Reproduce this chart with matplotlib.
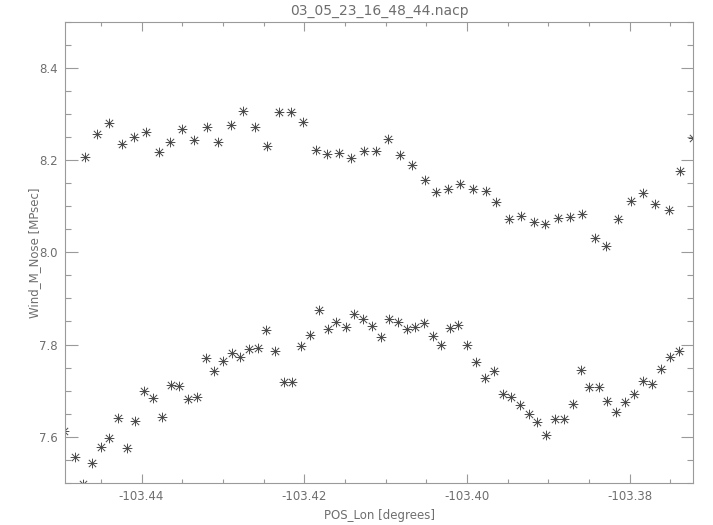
import matplotlib
matplotlib.use("Agg")
import matplotlib.pyplot as plt
from matplotlib.path import Path
from matplotlib.ticker import MultipleLocator, FormatStrFormatter

# upper branch
lon_hi = [-103.4470, -103.4455, -103.4440, -103.4424, -103.4409, -103.4395, -103.4379,
          -103.4365, -103.4350, -103.4335, -103.4320, -103.4306, -103.4290, -103.4275,
          -103.4261, -103.4246, -103.4231, -103.4216, -103.4201, -103.4186, -103.4172,
          -103.4157, -103.4142, -103.4126, -103.4112, -103.4097, -103.4082, -103.4068,
          -103.4052, -103.4038, -103.4023, -103.4008, -103.3992, -103.3977, -103.3964,
          -103.3948, -103.3934, -103.3918, -103.3904, -103.3888, -103.3874, -103.3859,
          -103.3843, -103.3829, -103.3814, -103.3798, -103.3784, -103.3769, -103.3752,
          -103.3738, -103.3722]
wind_hi = [8.206, 8.256, 8.281, 8.235, 8.249, 8.260, 8.218, 8.239, 8.267, 8.243,
           8.272, 8.238, 8.276, 8.307, 8.272, 8.231, 8.305, 8.304, 8.283, 8.222,
           8.212, 8.215, 8.205, 8.219, 8.219, 8.246, 8.211, 8.189, 8.156, 8.131,
           8.137, 8.147, 8.138, 8.132, 8.108, 8.073, 8.078, 8.065, 8.061, 8.074,
           8.076, 8.082, 8.031, 8.013, 8.072, 8.112, 8.128, 8.104, 8.091, 8.177,
           8.248]

# lower branch
lon_lo = [-103.4495, -103.4482, -103.4472, -103.4461, -103.4450, -103.4440, -103.4429,
          -103.4418, -103.4408, -103.4397, -103.4386, -103.4375, -103.4364, -103.4354,
          -103.4343, -103.4332, -103.4321, -103.4311, -103.4300, -103.4289, -103.4279,
          -103.4268, -103.4257, -103.4247, -103.4236, -103.4225, -103.4215, -103.4204,
          -103.4193, -103.4182, -103.4171, -103.4161, -103.4149, -103.4139, -103.4128,
          -103.4117, -103.4106, -103.4096, -103.4085, -103.4074, -103.4064, -103.4053,
          -103.4042, -103.4032, -103.4021, -103.4011, -103.4000, -103.3989, -103.3978,
          -103.3967, -103.3956, -103.3946, -103.3935, -103.3924, -103.3914, -103.3903,
          -103.3892, -103.3881, -103.3870, -103.3860, -103.3850, -103.3838, -103.3828,
          -103.3817, -103.3806, -103.3795, -103.3784, -103.3773, -103.3762, -103.3751,
          -103.3740]
wind_lo = [7.612, 7.557, 7.497, 7.544, 7.579, 7.598, 7.640, 7.575, 7.635, 7.699,
           7.685, 7.642, 7.713, 7.711, 7.681, 7.687, 7.770, 7.743, 7.765, 7.782,
           7.774, 7.790, 7.792, 7.832, 7.787, 7.718, 7.719, 7.797, 7.820, 7.874,
           7.833, 7.848, 7.839, 7.866, 7.856, 7.841, 7.817, 7.855, 7.849, 7.834,
           7.838, 7.846, 7.818, 7.800, 7.836, 7.843, 7.800, 7.762, 7.727, 7.743,
           7.692, 7.687, 7.669, 7.649, 7.633, 7.604, 7.638, 7.638, 7.672, 7.744,
           7.707, 7.707, 7.678, 7.654, 7.675, 7.692, 7.721, 7.714, 7.746, 7.772,
           7.787]

txt = '#6e6e6e'
axc = '#9a9a9a'

# IDL style asterisk: plus and cross overlaid
d = 0.75
star = Path([(0, -1), (0, 1), (-1, 0), (1, 0),
             (-d, -d), (d, d), (-d, d), (d, -d)],
            [Path.MOVETO, Path.LINETO] * 4)

fig = plt.figure(figsize=(7.13, 5.25), dpi=100)
ax = fig.add_axes([0.0912, 0.08, 0.881, 0.879])

ax.plot(lon_hi, wind_hi, linestyle='none', marker=star, markersize=7,
        markeredgewidth=0.7, color='#4a4a4a')
ax.plot(lon_lo, wind_lo, linestyle='none', marker=star, markersize=7,
        markeredgewidth=0.7, color='#4a4a4a')

ax.set_xlim(-103.4494, -103.3722)
ax.set_ylim(7.5, 8.5)

ax.xaxis.set_major_locator(MultipleLocator(0.02))
ax.xaxis.set_minor_locator(MultipleLocator(0.005))
ax.yaxis.set_major_locator(MultipleLocator(0.2))
ax.yaxis.set_minor_locator(MultipleLocator(0.05))
ax.xaxis.set_major_formatter(FormatStrFormatter('%.2f'))
ax.yaxis.set_major_formatter(FormatStrFormatter('%.1f'))

ax.tick_params(axis='both', which='both', direction='in', top=True, right=True,
               color=axc, width=0.8, labelcolor=txt, labelsize=8.5, pad=5)
ax.tick_params(axis='x', which='major', length=6.5)
ax.tick_params(axis='x', which='minor', length=3.2)
ax.tick_params(axis='y', which='major', length=9)
ax.tick_params(axis='y', which='minor', length=4.5)
for s in ax.spines.values():
    s.set_color(axc)
    s.set_linewidth(0.8)

ax.set_title('03_05_23_16_48_44.nacp', color=txt, fontsize=10, pad=5)
ax.set_xlabel('POS_Lon [degrees]', color=txt, fontsize=8.5, labelpad=4)
ax.set_ylabel('Wind_M_Nose [MPsec]', color=txt, fontsize=8.5, labelpad=-1)

fig.savefig('out.png', dpi=100)
